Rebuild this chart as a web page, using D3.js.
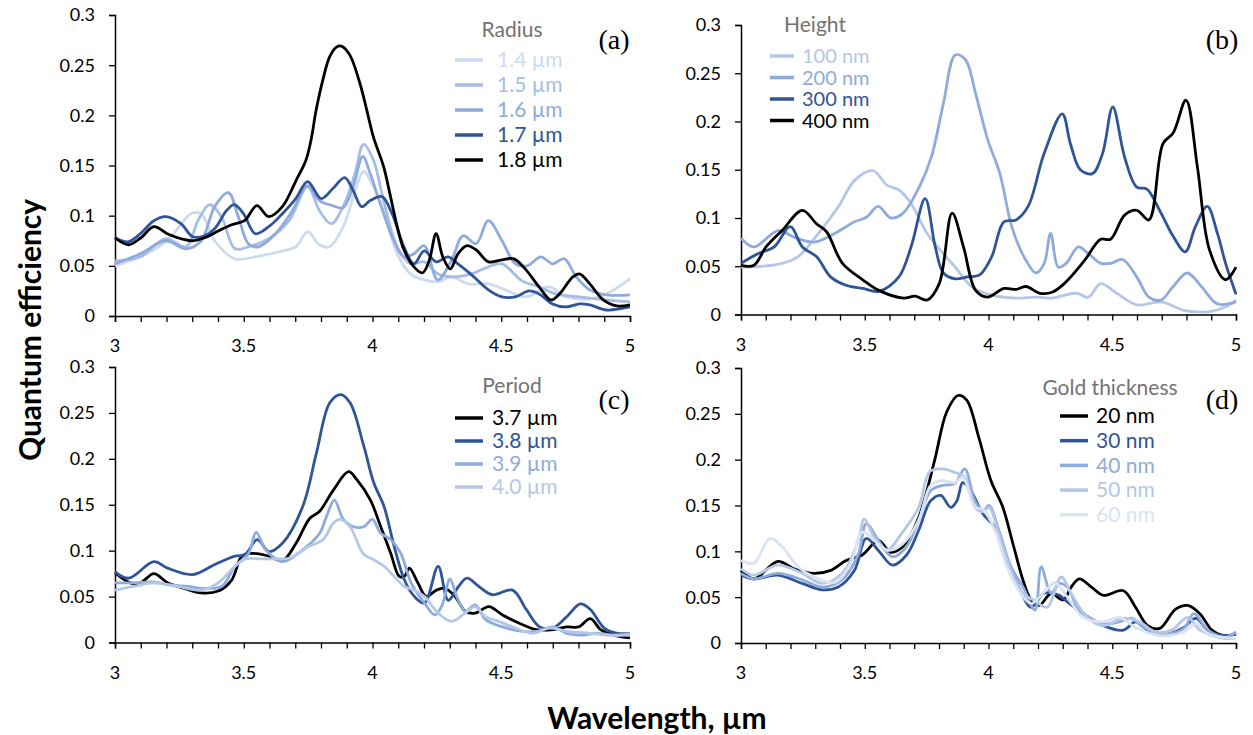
<!DOCTYPE html>
<html>
<head>
<meta charset="utf-8">
<script src="https://cdn.jsdelivr.net/npm/d3@7"></script>
<style>
  body { margin: 0; background: #fff; }
  svg { display: block; font-family: Lato, "Noto Sans", sans-serif; }
</style>
</head>
<body>
<svg id="chart" width="1253" height="735"></svg>
<script>
// ---- data (wavelength in um, quantum efficiency) ----
const xTicks = [3, 3.5, 4, 4.5, 5];
const yTicks = [0, 0.05, 0.1, 0.15, 0.2, 0.25, 0.3];

// (a) radius
const radiusLabels = ["1.4 µm", "1.5 µm", "1.6 µm", "1.7 µm", "1.8 µm"];
const r14 = [[3.000,0.050],[3.098,0.059],[3.203,0.075],[3.295,0.102],[3.335,0.102],[3.387,0.075],[3.466,0.057],[3.545,0.059],[3.636,0.064],[3.702,0.069],[3.748,0.084],[3.794,0.071],[3.833,0.069],[3.886,0.089],[3.938,0.129],[3.965,0.144],[4.004,0.129],[4.050,0.099],[4.096,0.062],[4.148,0.042],[4.201,0.036],[4.253,0.034],[4.306,0.039],[4.371,0.032],[4.450,0.032],[4.516,0.026],[4.596,0.019],[4.686,0.029],[4.752,0.019],[4.844,0.017],[4.909,0.022],[5.000,0.037]];
const r15 = [[3.000,0.055],[3.098,0.059],[3.197,0.077],[3.276,0.069],[3.322,0.095],[3.367,0.111],[3.413,0.099],[3.466,0.067],[3.518,0.069],[3.597,0.077],[3.676,0.095],[3.748,0.129],[3.794,0.105],[3.840,0.092],[3.886,0.109],[3.932,0.142],[3.965,0.171],[4.004,0.155],[4.043,0.115],[4.096,0.069],[4.148,0.052],[4.201,0.054],[4.253,0.042],[4.306,0.039],[4.385,0.042],[4.450,0.049],[4.503,0.052],[4.581,0.035],[4.647,0.029],[4.713,0.022],[4.804,0.019],[4.909,0.016],[5.000,0.014]];
const r16 = [[3.000,0.052],[3.098,0.062],[3.197,0.075],[3.276,0.067],[3.335,0.075],[3.387,0.109],[3.440,0.123],[3.479,0.099],[3.518,0.072],[3.558,0.069],[3.623,0.082],[3.689,0.105],[3.748,0.130],[3.794,0.115],[3.846,0.110],[3.886,0.108],[3.925,0.129],[3.962,0.159],[3.991,0.142],[4.030,0.112],[4.083,0.075],[4.122,0.059],[4.161,0.062],[4.201,0.070],[4.253,0.036],[4.306,0.055],[4.352,0.080],[4.402,0.072],[4.450,0.095],[4.503,0.075],[4.555,0.052],[4.601,0.050],[4.654,0.059],[4.699,0.052],[4.745,0.057],[4.791,0.039],[4.844,0.026],[4.909,0.021],[5.000,0.021]];
const r17 = [[3.000,0.078],[3.052,0.074],[3.098,0.082],[3.151,0.095],[3.197,0.099],[3.256,0.092],[3.302,0.079],[3.348,0.080],[3.387,0.087],[3.433,0.105],[3.463,0.111],[3.499,0.102],[3.545,0.082],[3.597,0.089],[3.650,0.102],[3.702,0.117],[3.748,0.134],[3.801,0.117],[3.846,0.127],[3.892,0.138],[3.925,0.125],[3.958,0.109],[3.991,0.115],[4.037,0.119],[4.076,0.102],[4.122,0.069],[4.161,0.052],[4.201,0.065],[4.247,0.054],[4.293,0.059],[4.332,0.052],[4.385,0.041],[4.450,0.026],[4.503,0.019],[4.555,0.019],[4.608,0.025],[4.647,0.022],[4.699,0.012],[4.752,0.009],[4.804,0.012],[4.844,0.011],[4.909,0.006],[5.000,0.009]];
const r18 = [[3.000,0.078],[3.052,0.071],[3.101,0.078],[3.151,0.089],[3.203,0.082],[3.256,0.077],[3.302,0.075],[3.348,0.078],[3.403,0.085],[3.453,0.091],[3.503,0.095],[3.551,0.110],[3.597,0.099],[3.650,0.109],[3.703,0.135],[3.741,0.155],[3.761,0.175],[3.781,0.205],[3.807,0.235],[3.833,0.258],[3.860,0.268],[3.879,0.269],[3.912,0.260],[3.951,0.232],[3.978,0.205],[4.004,0.178],[4.043,0.149],[4.070,0.119],[4.096,0.089],[4.122,0.066],[4.161,0.049],[4.194,0.043],[4.220,0.055],[4.247,0.082],[4.273,0.059],[4.302,0.047],[4.332,0.062],[4.365,0.070],[4.402,0.066],[4.450,0.054],[4.503,0.056],[4.549,0.057],[4.596,0.046],[4.647,0.029],[4.693,0.016],[4.726,0.022],[4.778,0.039],[4.804,0.042],[4.844,0.032],[4.896,0.016],[4.949,0.010],[5.000,0.011]];

// (b) height
const heightLabels = ["100 nm", "200 nm", "300 nm", "400 nm"];
const h100 = [[3.000,0.049],[3.085,0.050],[3.166,0.053],[3.231,0.060],[3.313,0.084],[3.394,0.112],[3.459,0.139],[3.533,0.149],[3.590,0.134],[3.638,0.129],[3.687,0.115],[3.752,0.084],[3.818,0.063],[3.866,0.049],[3.932,0.029],[4.013,0.020],[4.111,0.017],[4.192,0.018],[4.257,0.017],[4.355,0.022],[4.404,0.018],[4.453,0.032],[4.518,0.022],[4.599,0.010],[4.697,0.013],[4.795,0.004],[4.893,0.003],[4.958,0.008],[5.000,0.015]];
const h200 = [[3.000,0.079],[3.052,0.070],[3.150,0.087],[3.215,0.080],[3.296,0.075],[3.378,0.084],[3.459,0.096],[3.508,0.101],[3.554,0.112],[3.606,0.100],[3.655,0.105],[3.720,0.132],[3.769,0.163],[3.818,0.219],[3.866,0.269],[3.907,0.264],[3.948,0.229],[3.997,0.181],[4.046,0.146],[4.094,0.091],[4.143,0.060],[4.192,0.043],[4.225,0.053],[4.251,0.084],[4.282,0.049],[4.314,0.053],[4.363,0.070],[4.404,0.063],[4.453,0.053],[4.493,0.053],[4.542,0.057],[4.599,0.039],[4.648,0.018],[4.697,0.015],[4.746,0.029],[4.803,0.043],[4.860,0.029],[4.925,0.011],[5.000,0.013]];
const h300 = [[3.000,0.053],[3.068,0.063],[3.134,0.070],[3.199,0.091],[3.248,0.070],[3.305,0.060],[3.362,0.039],[3.427,0.030],[3.492,0.027],[3.557,0.024],[3.638,0.039],[3.687,0.070],[3.744,0.120],[3.785,0.070],[3.818,0.043],[3.866,0.037],[3.915,0.039],[3.964,0.041],[4.013,0.060],[4.062,0.096],[4.111,0.098],[4.160,0.112],[4.225,0.167],[4.298,0.208],[4.331,0.177],[4.371,0.150],[4.420,0.146],[4.461,0.167],[4.502,0.215],[4.550,0.163],[4.599,0.132],[4.640,0.130],[4.697,0.105],[4.746,0.081],[4.795,0.065],[4.836,0.091],[4.884,0.112],[4.925,0.084],[4.958,0.053],[5.000,0.021]];
const h400 = [[3.000,0.051],[3.052,0.051],[3.101,0.070],[3.166,0.087],[3.248,0.108],[3.305,0.094],[3.345,0.086],[3.410,0.053],[3.492,0.036],[3.557,0.025],[3.655,0.017],[3.704,0.019],[3.752,0.015],[3.801,0.032],[3.853,0.105],[3.899,0.070],[3.948,0.025],[3.997,0.018],[4.062,0.027],[4.111,0.026],[4.151,0.029],[4.208,0.022],[4.257,0.023],[4.306,0.032],[4.388,0.056],[4.453,0.078],[4.493,0.078],[4.550,0.103],[4.599,0.108],[4.648,0.098],[4.705,0.177],[4.746,0.188],[4.798,0.222],[4.844,0.153],[4.893,0.067],[4.958,0.036],[5.000,0.049]];

// (c) period
const periodLabels = ["3.7 µm", "3.8 µm", "3.9 µm", "4.0 µm"];
const p37 = [[3.000,0.076],[3.059,0.065],[3.099,0.065],[3.151,0.075],[3.204,0.065],[3.269,0.059],[3.335,0.054],[3.401,0.056],[3.453,0.068],[3.493,0.094],[3.532,0.097],[3.598,0.094],[3.650,0.089],[3.703,0.108],[3.756,0.135],[3.795,0.143],[3.848,0.166],[3.907,0.186],[3.940,0.177],[3.992,0.155],[4.032,0.126],[4.071,0.097],[4.104,0.072],[4.124,0.072],[4.143,0.081],[4.176,0.065],[4.209,0.050],[4.248,0.057],[4.281,0.059],[4.321,0.050],[4.360,0.034],[4.399,0.032],[4.452,0.039],[4.505,0.030],[4.570,0.021],[4.636,0.014],[4.702,0.014],[4.754,0.017],[4.800,0.017],[4.846,0.026],[4.886,0.014],[4.938,0.008],[5.000,0.005]];
const p38 = [[3.000,0.077],[3.053,0.070],[3.151,0.088],[3.204,0.081],[3.302,0.074],[3.388,0.085],[3.466,0.094],[3.506,0.096],[3.552,0.112],[3.598,0.099],[3.650,0.108],[3.729,0.148],[3.782,0.206],[3.834,0.261],[3.876,0.270],[3.913,0.261],[3.966,0.214],[4.005,0.174],[4.045,0.148],[4.084,0.105],[4.124,0.068],[4.163,0.050],[4.202,0.043],[4.255,0.083],[4.294,0.046],[4.334,0.061],[4.367,0.070],[4.413,0.061],[4.465,0.052],[4.544,0.057],[4.597,0.036],[4.649,0.017],[4.702,0.016],[4.754,0.028],[4.807,0.042],[4.846,0.036],[4.899,0.016],[4.951,0.010],[5.000,0.010]];
const p39 = [[3.000,0.065],[3.072,0.065],[3.151,0.066],[3.204,0.063],[3.283,0.061],[3.348,0.059],[3.414,0.061],[3.466,0.083],[3.519,0.097],[3.548,0.120],[3.585,0.101],[3.650,0.088],[3.729,0.101],[3.795,0.119],[3.821,0.137],[3.852,0.155],[3.887,0.134],[3.926,0.126],[3.966,0.126],[3.999,0.134],[4.032,0.119],[4.071,0.112],[4.110,0.097],[4.150,0.065],[4.202,0.043],[4.242,0.030],[4.268,0.039],[4.301,0.069],[4.327,0.050],[4.360,0.034],[4.399,0.041],[4.439,0.025],[4.505,0.017],[4.583,0.012],[4.636,0.012],[4.702,0.017],[4.754,0.010],[4.807,0.008],[4.872,0.010],[4.938,0.008],[5.000,0.010]];
const p40 = [[3.000,0.057],[3.072,0.061],[3.151,0.065],[3.243,0.061],[3.335,0.057],[3.401,0.065],[3.466,0.083],[3.506,0.091],[3.572,0.091],[3.624,0.091],[3.677,0.092],[3.756,0.105],[3.808,0.112],[3.848,0.130],[3.874,0.134],[3.913,0.126],[3.966,0.096],[4.005,0.090],[4.045,0.083],[4.084,0.072],[4.124,0.061],[4.163,0.057],[4.202,0.050],[4.255,0.032],[4.307,0.023],[4.360,0.032],[4.399,0.039],[4.439,0.028],[4.491,0.023],[4.544,0.017],[4.623,0.010],[4.689,0.016],[4.754,0.012],[4.846,0.010],[4.912,0.008],[5.000,0.008]];

// (d) gold thickness
const goldLabels = ["20 nm", "30 nm", "40 nm", "50 nm", "60 nm"];
const d20 = [[3.000,0.079],[3.052,0.070],[3.149,0.089],[3.214,0.081],[3.295,0.076],[3.360,0.079],[3.425,0.090],[3.490,0.096],[3.555,0.112],[3.604,0.099],[3.653,0.105],[3.718,0.137],[3.782,0.199],[3.831,0.252],[3.877,0.270],[3.912,0.265],[3.961,0.224],[4.010,0.177],[4.058,0.148],[4.099,0.108],[4.140,0.068],[4.172,0.047],[4.205,0.041],[4.253,0.054],[4.302,0.047],[4.334,0.061],[4.367,0.070],[4.416,0.061],[4.464,0.052],[4.545,0.057],[4.594,0.039],[4.643,0.019],[4.692,0.016],[4.756,0.037],[4.805,0.041],[4.854,0.032],[4.903,0.014],[4.951,0.008],[5.000,0.010]];
const d30 = [[3.000,0.074],[3.052,0.070],[3.149,0.074],[3.247,0.065],[3.328,0.058],[3.393,0.061],[3.458,0.079],[3.506,0.114],[3.555,0.101],[3.612,0.085],[3.669,0.096],[3.718,0.123],[3.766,0.155],[3.807,0.161],[3.847,0.148],[3.872,0.155],[3.896,0.175],[3.929,0.166],[3.977,0.141],[4.026,0.126],[4.075,0.090],[4.123,0.061],[4.172,0.039],[4.221,0.054],[4.245,0.055],[4.286,0.052],[4.318,0.045],[4.383,0.032],[4.464,0.019],[4.545,0.014],[4.594,0.023],[4.643,0.014],[4.724,0.010],[4.789,0.017],[4.838,0.027],[4.886,0.014],[4.951,0.008],[5.000,0.010]];
const d40 = [[3.000,0.076],[3.052,0.070],[3.149,0.076],[3.247,0.069],[3.328,0.061],[3.409,0.069],[3.474,0.097],[3.506,0.130],[3.555,0.112],[3.612,0.094],[3.669,0.105],[3.718,0.134],[3.766,0.166],[3.815,0.172],[3.864,0.174],[3.904,0.190],[3.945,0.155],[3.977,0.144],[4.002,0.150],[4.042,0.123],[4.091,0.083],[4.140,0.061],[4.188,0.036],[4.213,0.083],[4.253,0.054],[4.286,0.065],[4.318,0.061],[4.367,0.036],[4.464,0.021],[4.529,0.023],[4.578,0.027],[4.627,0.017],[4.708,0.010],[4.789,0.016],[4.830,0.032],[4.886,0.014],[4.951,0.006],[5.000,0.012]];
const d50 = [[3.000,0.081],[3.052,0.074],[3.149,0.085],[3.247,0.076],[3.328,0.065],[3.409,0.076],[3.474,0.112],[3.498,0.135],[3.539,0.115],[3.588,0.101],[3.653,0.121],[3.718,0.148],[3.763,0.187],[3.815,0.190],[3.864,0.186],[3.904,0.181],[3.945,0.148],[3.977,0.143],[4.002,0.148],[4.042,0.119],[4.091,0.079],[4.140,0.054],[4.188,0.046],[4.237,0.039],[4.294,0.072],[4.334,0.054],[4.399,0.028],[4.464,0.019],[4.545,0.027],[4.610,0.023],[4.675,0.012],[4.740,0.014],[4.805,0.028],[4.854,0.014],[4.951,0.005],[5.000,0.005]];
const d60 = [[3.000,0.090],[3.052,0.087],[3.117,0.114],[3.166,0.105],[3.231,0.083],[3.295,0.072],[3.377,0.066],[3.442,0.086],[3.490,0.121],[3.555,0.108],[3.596,0.101],[3.653,0.108],[3.718,0.134],[3.766,0.172],[3.807,0.177],[3.864,0.175],[3.896,0.181],[3.945,0.148],[3.977,0.146],[4.026,0.123],[4.075,0.083],[4.123,0.057],[4.172,0.043],[4.237,0.059],[4.269,0.066],[4.318,0.050],[4.383,0.028],[4.464,0.023],[4.529,0.028],[4.594,0.017],[4.692,0.008],[4.789,0.012],[4.838,0.021],[4.886,0.010],[5.000,0.005]];

// ---- layout ----
const svg = d3.select("#chart");

const panels = [
  {tag: "(a)", title: "Radius", labels: radiusLabels, series: [r14, r15, r16, r17, r18],
   colors: ["#cddaf0", "#a6bde6", "#8faadc", "#2f5597", "#000"],
   left: 115, right: 630, bottom: 316, top: 15,
   lg: {tx: 512, ty: 30, lx: 455, lw: 28, sx: 497, y0: 60, dy: 25, size: 21}, tagX: 614, tagY: 39},
  {tag: "(b)", title: "Height", labels: heightLabels, series: [h100, h200, h300, h400],
   colors: ["#b4c7e7", "#8faadc", "#2f5597", "#000"],
   left: 741, right: 1236, bottom: 314.5, top: 25,
   lg: {tx: 815, ty: 25, lx: 770, lw: 24, sx: 802, y0: 56, dy: 21.5, size: 20}, tagX: 1222, tagY: 39},
  {tag: "(c)", title: "Period", labels: periodLabels, series: [p37, p38, p39, p40],
   colors: ["#000", "#2f5597", "#8faadc", "#b4c7e7"],
   left: 115, right: 630, bottom: 642.5, top: 367,
   lg: {tx: 512, ty: 386, lx: 455, lw: 28, sx: 492, y0: 418, dy: 23, size: 21}, tagX: 614, tagY: 399},
  {tag: "(d)", title: "Gold thickness", labels: goldLabels, series: [d20, d30, d40, d50, d60],
   colors: ["#000", "#2f5597", "#8faadc", "#b4c7e7", "#dae3f3"],
   left: 741, right: 1236, bottom: 643, top: 368,
   lg: {tx: 1110, ty: 388, lx: 1060, lw: 28, sx: 1096, y0: 416, dy: 24.7, size: 21}, tagX: 1222, tagY: 399}
];

panels.forEach(function(p) {
  const x = d3.scaleLinear().domain([3, 5]).range([p.left, p.right]);
  const y = d3.scaleLinear().domain([0, 0.3]).range([p.bottom, p.top]);
  const g = svg.append("g");

  // x axis: minor ticks every 0.1, labels every 0.5
  const xa = g.append("g").attr("transform", "translate(0," + p.bottom + ")")
    .call(d3.axisBottom(x).tickValues(d3.range(0, 21).map(i => 3 + i * 0.1))
      .tickSize(6).tickFormat(""));
  xa.select(".domain").attr("stroke", "#000").attr("stroke-width", 1.5);
  xa.selectAll(".tick line").attr("stroke", "#000").attr("stroke-width", 1.3);
  g.selectAll(".xlab").data(xTicks).join("text")
    .attr("x", d => x(d)).attr("y", p.bottom + 36)
    .attr("text-anchor", "middle").style("font-size", "18px").text(d => d);

  // y axis
  const ya = g.append("g").attr("transform", "translate(" + p.left + ",0)")
    .call(d3.axisLeft(y).tickValues(yTicks).tickSize(6).tickFormat(""));
  ya.select(".domain").attr("stroke", "#000").attr("stroke-width", 1.5);
  ya.selectAll(".tick line").attr("stroke", "#000").attr("stroke-width", 1.3);
  g.selectAll(".ylab").data(yTicks).join("text")
    .attr("x", p.left - 20).attr("y", d => y(d)).attr("dy", "0.36em")
    .attr("text-anchor", "end").style("font-size", "18px").text(d => d);

  // curves
  const line = d3.line().x(d => x(d[0])).y(d => y(d[1])).curve(d3.curveCatmullRom.alpha(0.5));
  p.series.forEach(function(s, i) {
    g.append("path").datum(s)
      .attr("fill", "none").attr("stroke", p.colors[i]).attr("stroke-width", 2.8)
      .attr("stroke-linejoin", "round").attr("d", line);
  });

  // legend
  g.append("text").attr("x", p.lg.tx).attr("y", p.lg.ty).attr("dy", "0.35em")
    .attr("text-anchor", "middle").style("font-size", "21px").style("fill", "#767171").text(p.title);
  p.labels.forEach(function(lab, i) {
    const yy = p.lg.y0 + i * p.lg.dy;
    g.append("line").attr("x1", p.lg.lx).attr("x2", p.lg.lx + p.lg.lw).attr("y1", yy).attr("y2", yy)
      .attr("stroke", p.colors[i]).attr("stroke-width", 3.5);
    g.append("text").attr("x", p.lg.sx).attr("y", yy).attr("dy", "0.35em")
      .style("font-size", p.lg.size + "px").style("fill", p.colors[i]).text(lab);
  });

  // panel tag
  g.append("text").attr("x", p.tagX).attr("y", p.tagY).attr("dy", "0.35em")
    .attr("text-anchor", "middle").style("font-family", "'Liberation Serif', serif")
    .style("font-size", "28px").text(p.tag);
});

// axis titles
svg.append("text").attr("transform", "translate(30,330) rotate(-90)")
  .attr("text-anchor", "middle").attr("dy", "0.35em")
  .style("font-size", "30px").style("font-weight", "bold").text("Quantum efficiency");
svg.append("text").attr("x", 657).attr("y", 718).attr("dy", "0.35em")
  .attr("text-anchor", "middle").style("font-size", "30px").style("font-weight", "bold").text("Wavelength, µm");
</script>
</body>
</html>
